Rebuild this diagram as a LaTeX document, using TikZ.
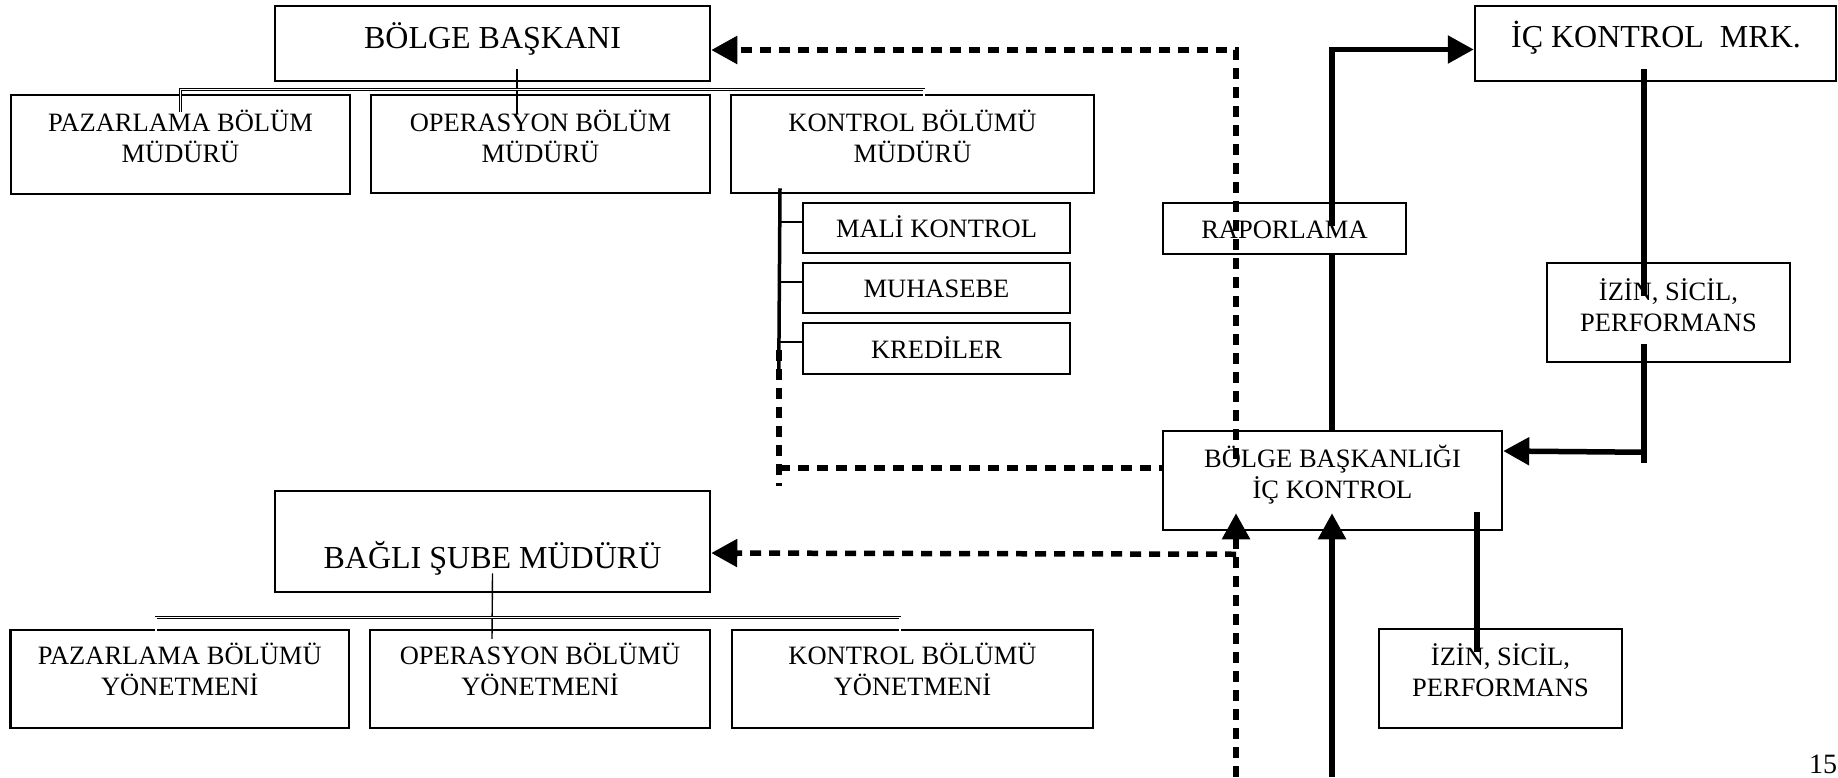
\documentclass[tikz,border=0pt]{standalone}
\usepackage{fontspec}
\setmainfont{Liberation Serif}
\usetikzlibrary{arrows.meta,calc}
\begin{document}
\begin{tikzpicture}[x=1pt,y=-1pt,
  box/.style={draw, line width=2.5pt, inner sep=0pt},
  lbl/.style={inner sep=0pt, align=center, anchor=base, font=\fontsize{26.5}{31}\selectfont},
  title/.style={inner sep=0pt, anchor=base, font=\fontsize{32}{38}\selectfont},
  stem/.style={line width=1.4pt},
  bus/.style={double, line width=0.8pt, double distance=1.2pt},
  twig/.style={line width=2pt},
  rail/.style={line width=3.5pt},
  heavy/.style={line width=5.5pt, line join=miter},
  dashlink/.style={line width=5.5pt, dash pattern=on 11pt off 8pt},
  headed/.style={-{Triangle[length=26pt,width=27pt]}}
]
\fill[white] (0,0) rectangle (1838,777);
\useasboundingbox (0,0) rectangle (1838,777);

% ---------- regional head office ----------
% (two-line labels are placed by the baseline of their last line)
\node[box, minimum width=435pt, minimum height=75pt] (bb) at (492.5,43.5) {};
\node[title] (bbt) at (492.5,48) {BÖLGE BAŞKANI};
\node[box, minimum width=339pt, minimum height=99pt] (pzm) at (180.5,144.5) {};
\node[lbl] (pzmt) at (180.5,162) {PAZARLAMA BÖLÜM\\MÜDÜRÜ};
\node[box, minimum width=339pt, minimum height=98pt] (opm) at (540.5,144) {};
\node[lbl] (opmt) at (540.5,162) {OPERASYON BÖLÜM\\MÜDÜRÜ};
\node[box, minimum width=363pt, minimum height=98pt] (kbm) at (912.5,144) {};
\node[lbl] (kbmt) at (912.5,162) {KONTROL BÖLÜMÜ\\MÜDÜRÜ};

\node[box, minimum width=267pt, minimum height=50pt] (mali) at (936.5,228) {};
\node[lbl] (malit) at (936.5,237) {MALİ KONTROL};
\node[box, minimum width=267pt, minimum height=50pt] (muh) at (936.5,288) {};
\node[lbl] (muht) at (936.5,297) {MUHASEBE};
\node[box, minimum width=267pt, minimum height=51pt] (kred) at (936.5,348.5) {};
\node[lbl] (kredt) at (936.5,358) {KREDİLER};

% ---------- internal control side ----------
\node[box, minimum width=243pt, minimum height=51pt] (rap) at (1284.5,228.5) {};
\node[lbl] (rapt) at (1284.5,238) {RAPORLAMA};
\node[box, minimum width=361pt, minimum height=75pt] (icm) at (1655.5,43.5) {};
\node[title] (icmt) at (1656,47) {İÇ KONTROL\ \ MRK.};
\node[box, minimum width=243pt, minimum height=99pt] (iz1) at (1668.5,312.5) {};
\node[lbl] (iz1t) at (1668.5,331) {İZİN, SİCİL,\\PERFORMANS};
\node[box, minimum width=339pt, minimum height=99pt] (bbik) at (1332.5,480.5) {};
\node[lbl] (bbikt) at (1332.5,498) {BÖLGE BAŞKANLIĞI\\İÇ KONTROL};
\node[box, minimum width=243pt, minimum height=99pt] (iz2) at (1500.5,678.5) {};
\node[lbl] (iz2t) at (1500.5,696) {İZİN, SİCİL,\\PERFORMANS};

% ---------- branch office ----------
\node[box, minimum width=435pt, minimum height=101pt] (bsm) at (492.5,541.5) {};
\node[title] (bsmt) at (492.5,568) {BAĞLI ŞUBE MÜDÜRÜ};
\node[box, minimum width=338.5pt, minimum height=98pt] (pzy) at (179.75,679) {};
\node[lbl] (pzyt) at (179.75,695) {PAZARLAMA BÖLÜMÜ\\YÖNETMENİ};
\node[box, minimum width=340pt, minimum height=98pt] (opy) at (540,679) {};
\node[lbl] (opyt) at (540,695) {OPERASYON BÖLÜMÜ\\YÖNETMENİ};
\node[box, minimum width=361pt, minimum height=98pt] (kby) at (912.5,679) {};
\node[lbl] (kbyt) at (912.5,695) {KONTROL BÖLÜMÜ\\YÖNETMENİ};

\node[inner sep=0pt, anchor=base west, font=\fontsize{28}{32}\selectfont] (pg) at (1809,773) {15};

% ---------- org chart links ----------
\draw[stem] ($(bb.south)+(24.5,-13)$) -- ($(opm.north)+(-23.5,20)$);
\draw[bus] ($(pzm.north)+(0,18)$) -- ++(0,-22) -| ($(kbm.north)+(11.5,18)$);
\draw[stem] ($(bsm.south)+(0,-20)$) -- ($(opy.north)+(-48,10)$);
\draw[bus] ($(pzy.north)+(-23.75,6)$) -- ++(0,-17) -| ($(kby.north)+(-12.5,6)$);

% control department bracket
\draw[rail] ($(kbm.south)+(-132.5,-6)$) -- ($(kred.west)+(-23,25)$);
\draw[twig] ($(mali.west)+(-23,-6)$) -- ($(mali.west)+(0,-6)$);
\draw[twig] ($(muh.west)+(-23,-6)$) -- ($(muh.west)+(0,-6)$);
\draw[twig] ($(kred.west)+(-23,-6.5)$) -- ($(kred.west)+(0,-6.5)$);
\draw[dashlink] ($(kred.west)+(-23,1.5)$) -- ($(bbik.west)+(-383,5.5)$);
\draw[dashlink] ($(bbik.west)+(-383,-12.5)$) -- ($(bbik.west)+(0,-12.5)$);

% reporting lines
\draw[dashlink, headed] ($(bbik.north)+(-96.5,29)$) |- ($(bb.east)+(0,6.5)$);
\draw[heavy, headed] ($(rap.north)+(47.5,24)$) |- ($(icm.west)+(0,6)$);
\draw[heavy] ($(rap.south)+(47.5,0)$) -- ($(bbik.north)+(-0.5,0)$);
\draw[heavy] ($(icm.south)+(-11.5,-13)$) -- ($(iz1.north)+(-24.5,34)$);
\draw[heavy] ($(iz1.south)+(-24.5,-19)$) -- ($(iz1.south)+(-24.5,100)$);
\draw[heavy, headed] ($(iz1.south)+(-24.5,89)$) -- ($(bbik.east)+(0,-29.5)$);
\draw[heavy] ($(bbik.south)+(144.5,-19)$) -- ($(iz2.north)+(-23.5,24)$);

% incoming lines from below
\coordinate (dbot) at (1236,777);
\coordinate (sbot) at (1332,777);
\draw[dashlink, headed] (dbot) -- ($(bbik.south)+(-96.5,-18)$);
\draw[dashlink, headed] ($(bbik.south)+(-96.5,23)$) -- ($(bsm.east)+(0,11.5)$);
\draw[heavy, headed] (sbot) -- ($(bbik.south)+(-0.5,-18)$);
\end{tikzpicture}
\end{document}
